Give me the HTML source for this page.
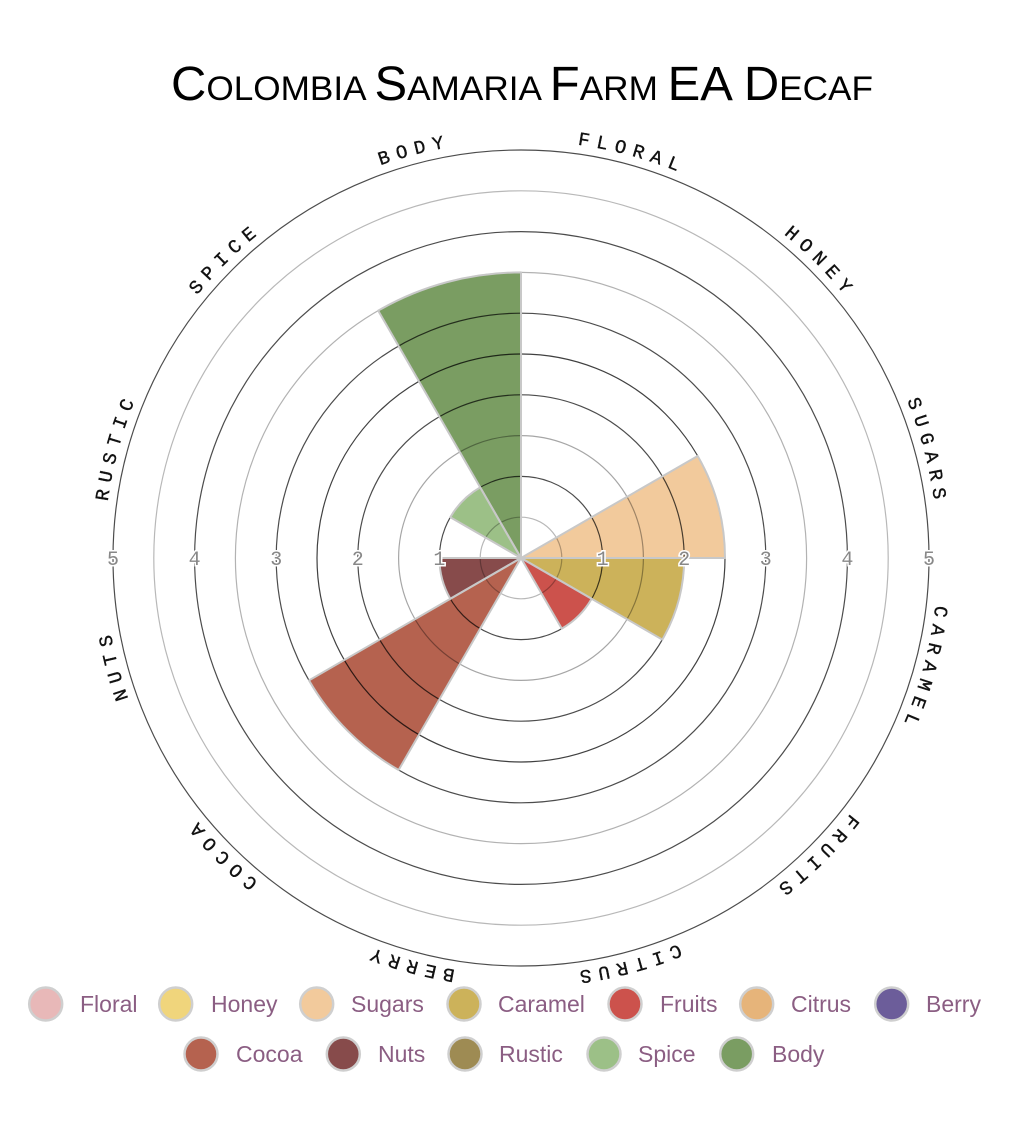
<!DOCTYPE html>
<html>
<head>
<meta charset="utf-8">
<style>
html,body{margin:0;padding:0;background:#fff;}
body{width:1030px;height:1142px;overflow:hidden;}
svg{display:block;}
.lbl{font-family:"Liberation Mono","DejaVu Sans Mono",monospace;font-size:19px;letter-spacing:7px;fill:#111;stroke:#111;stroke-width:0.35px;}
.num{font-family:"Liberation Mono","DejaVu Sans Mono",monospace;font-size:20px;fill:#888;stroke:#fff;stroke-width:3px;paint-order:stroke;text-anchor:middle;}
.leg{font-family:"Liberation Sans",Arial,sans-serif;font-size:23px;fill:#8b5e83;}
.title{font-family:"Liberation Sans",Arial,sans-serif;fill:#000;}
</style>
</head>
<body>
<svg width="1030" height="1142" viewBox="0 0 1030 1142" xmlns="http://www.w3.org/2000/svg">
  <!-- Title -->
  <text class="title" x="171" y="100" textLength="702" lengthAdjust="spacingAndGlyphs"><tspan font-size="48">C</tspan><tspan font-size="34.5">OLOMBIA </tspan><tspan font-size="48">S</tspan><tspan font-size="34.5">AMARIA </tspan><tspan font-size="48">F</tspan><tspan font-size="34.5">ARM </tspan><tspan font-size="48">EA D</tspan><tspan font-size="34.5">ECAF</tspan></text>

  <!-- Wedge fills -->
  <g stroke="none">
    <path d="M521,558 L697.67,456 A204,204 0 0 1 725,558 Z" fill="#f2ca9c"/>
    <path d="M521,558 L684.2,558 A163.2,163.2 0 0 1 662.33,639.6 Z" fill="#ccb25a"/>
    <path d="M521,558 L591.67,598.8 A81.6,81.6 0 0 1 561.8,628.67 Z" fill="#cc524c"/>
    <path d="M521,558 L398.6,770 A244.8,244.8 0 0 1 309,680.4 Z" fill="#b5624f"/>
    <path d="M521,558 L450.33,598.8 A81.6,81.6 0 0 1 439.4,558 Z" fill="#874b4b"/>
    <path d="M521,558 L450.33,517.2 A81.6,81.6 0 0 1 480.2,487.33 Z" fill="#9cc087"/>
    <path d="M521,558 L378.2,310.67 A285.6,285.6 0 0 1 521,272.4 Z" fill="#7a9d62"/>
  </g>

  <!-- Grid rings -->
  <g fill="none">
    <circle cx="521" cy="558" r="40.8" stroke="#000" stroke-opacity="0.28" stroke-width="1.2"/>
    <circle cx="521" cy="558" r="81.6" stroke="#000" stroke-opacity="0.7" stroke-width="1.2"/>
    <circle cx="521" cy="558" r="122.4" stroke="#000" stroke-opacity="0.35" stroke-width="1.2"/>
    <circle cx="521" cy="558" r="163.2" stroke="#000" stroke-opacity="0.7" stroke-width="1.2"/>
    <circle cx="521" cy="558" r="204" stroke="#000" stroke-opacity="0.75" stroke-width="1.2"/>
    <circle cx="521" cy="558" r="244.8" stroke="#000" stroke-opacity="0.7" stroke-width="1.2"/>
    <circle cx="521" cy="558" r="285.6" stroke="#000" stroke-opacity="0.3" stroke-width="1.2"/>
    <circle cx="521" cy="558" r="326.4" stroke="#000" stroke-opacity="0.7" stroke-width="1.2"/>
    <circle cx="521" cy="558" r="367.2" stroke="#000" stroke-opacity="0.28" stroke-width="1.2"/>
    <circle cx="521" cy="558" r="408" stroke="#000" stroke-opacity="0.7" stroke-width="1.2"/>
  </g>

  <!-- Wedge outlines -->
  <g fill="none" stroke="#c8c8c8" stroke-width="2" stroke-linejoin="round">
    <path d="M521,558 L697.67,456 A204,204 0 0 1 725,558 Z"/>
    <path d="M521,558 L684.2,558 A163.2,163.2 0 0 1 662.33,639.6 Z"/>
    <path d="M521,558 L591.67,598.8 A81.6,81.6 0 0 1 561.8,628.67 Z"/>
    <path d="M521,558 L398.6,770 A244.8,244.8 0 0 1 309,680.4 Z"/>
    <path d="M521,558 L450.33,598.8 A81.6,81.6 0 0 1 439.4,558 Z"/>
    <path d="M521,558 L450.33,517.2 A81.6,81.6 0 0 1 480.2,487.33 Z"/>
    <path d="M521,558 L378.2,310.67 A285.6,285.6 0 0 1 521,272.4 Z"/>
  </g>

  <!-- Scale numbers -->
  <g class="num">
    <text x="602.6" y="565">1</text>
    <text x="684.2" y="565">2</text>
    <text x="765.8" y="565">3</text>
    <text x="847.4" y="565">4</text>
    <text x="929" y="565">5</text>
    <text x="439.4" y="565">1</text>
    <text x="357.8" y="565">2</text>
    <text x="276.2" y="565">3</text>
    <text x="194.6" y="565">4</text>
    <text x="113" y="565">5</text>
  </g>

  <!-- Curved label paths (radius 417) -->
  <defs>
    <path id="p0" d="M226.1,263.1 A417,417 0 0 1 923.8,450.1"/>
    <path id="p1" d="M413.1,155.2 A417,417 0 0 1 923.8,665.9"/>
    <path id="p2" d="M628.9,155.2 A417,417 0 0 1 815.9,852.9"/>
    <path id="p3" d="M815.9,263.1 A417,417 0 0 1 628.9,960.8"/>
    <path id="p4" d="M923.8,450.1 A417,417 0 0 1 413.1,960.8"/>
    <path id="p5" d="M923.8,665.9 A417,417 0 0 1 226.1,852.9"/>
    <path id="p6" d="M815.9,852.9 A417,417 0 0 1 118.2,665.9"/>
    <path id="p7" d="M628.9,960.8 A417,417 0 0 1 118.2,450.1"/>
    <path id="p8" d="M413.1,960.8 A417,417 0 0 1 226.1,263.1"/>
    <path id="p9" d="M226.1,852.9 A417,417 0 0 1 413.1,155.2"/>
    <path id="p10" d="M118.2,665.9 A417,417 0 0 1 628.9,155.2"/>
    <path id="p11" d="M118.2,450.1 A417,417 0 0 1 815.9,263.1"/>
  </defs>
  <g class="lbl" text-anchor="middle">
    <text><textPath href="#p0" startOffset="50.3%">FLORAL</textPath></text>
    <text><textPath href="#p1" startOffset="50.3%">HONEY</textPath></text>
    <text><textPath href="#p2" startOffset="50.3%">SUGARS</textPath></text>
    <text><textPath href="#p3" startOffset="50.3%">CARAMEL</textPath></text>
    <text><textPath href="#p4" startOffset="50.3%">FRUITS</textPath></text>
    <text><textPath href="#p5" startOffset="50.3%">CITRUS</textPath></text>
    <text><textPath href="#p6" startOffset="50.3%">BERRY</textPath></text>
    <text><textPath href="#p7" startOffset="50.3%">COCOA</textPath></text>
    <text><textPath href="#p8" startOffset="50.3%">NUTS</textPath></text>
    <text><textPath href="#p9" startOffset="50.3%">RUSTIC</textPath></text>
    <text><textPath href="#p10" startOffset="50.3%">SPICE</textPath></text>
    <text><textPath href="#p11" startOffset="50.3%">BODY</textPath></text>
  </g>

  <!-- Legend -->
  <g stroke="#cfcfcf" stroke-width="2.5">
    <circle cx="45.7" cy="1004" r="16.5" fill="#e8b8b8"/>
    <circle cx="175.7" cy="1004" r="16.5" fill="#f0d57c"/>
    <circle cx="316.7" cy="1004" r="16.5" fill="#f2ca9c"/>
    <circle cx="464" cy="1004" r="16.5" fill="#ccb25a"/>
    <circle cx="625" cy="1004" r="16.5" fill="#cc524c"/>
    <circle cx="756.7" cy="1004" r="16.5" fill="#e6b47a"/>
    <circle cx="891.7" cy="1004" r="16.5" fill="#6c5d9a"/>
    <circle cx="201" cy="1054" r="16.5" fill="#b5624f"/>
    <circle cx="343.3" cy="1054" r="16.5" fill="#874b4b"/>
    <circle cx="465" cy="1054" r="16.5" fill="#9e8b53"/>
    <circle cx="604" cy="1054" r="16.5" fill="#9cc087"/>
    <circle cx="736.7" cy="1054" r="16.5" fill="#7a9d62"/>
  </g>
  <g class="leg">
    <text x="80" y="1012">Floral</text>
    <text x="211" y="1012">Honey</text>
    <text x="351" y="1012">Sugars</text>
    <text x="498" y="1012">Caramel</text>
    <text x="660" y="1012">Fruits</text>
    <text x="791" y="1012">Citrus</text>
    <text x="926" y="1012">Berry</text>
    <text x="236" y="1062">Cocoa</text>
    <text x="378" y="1062">Nuts</text>
    <text x="499" y="1062">Rustic</text>
    <text x="638" y="1062">Spice</text>
    <text x="772" y="1062">Body</text>
  </g>
</svg>
</body>
</html>
